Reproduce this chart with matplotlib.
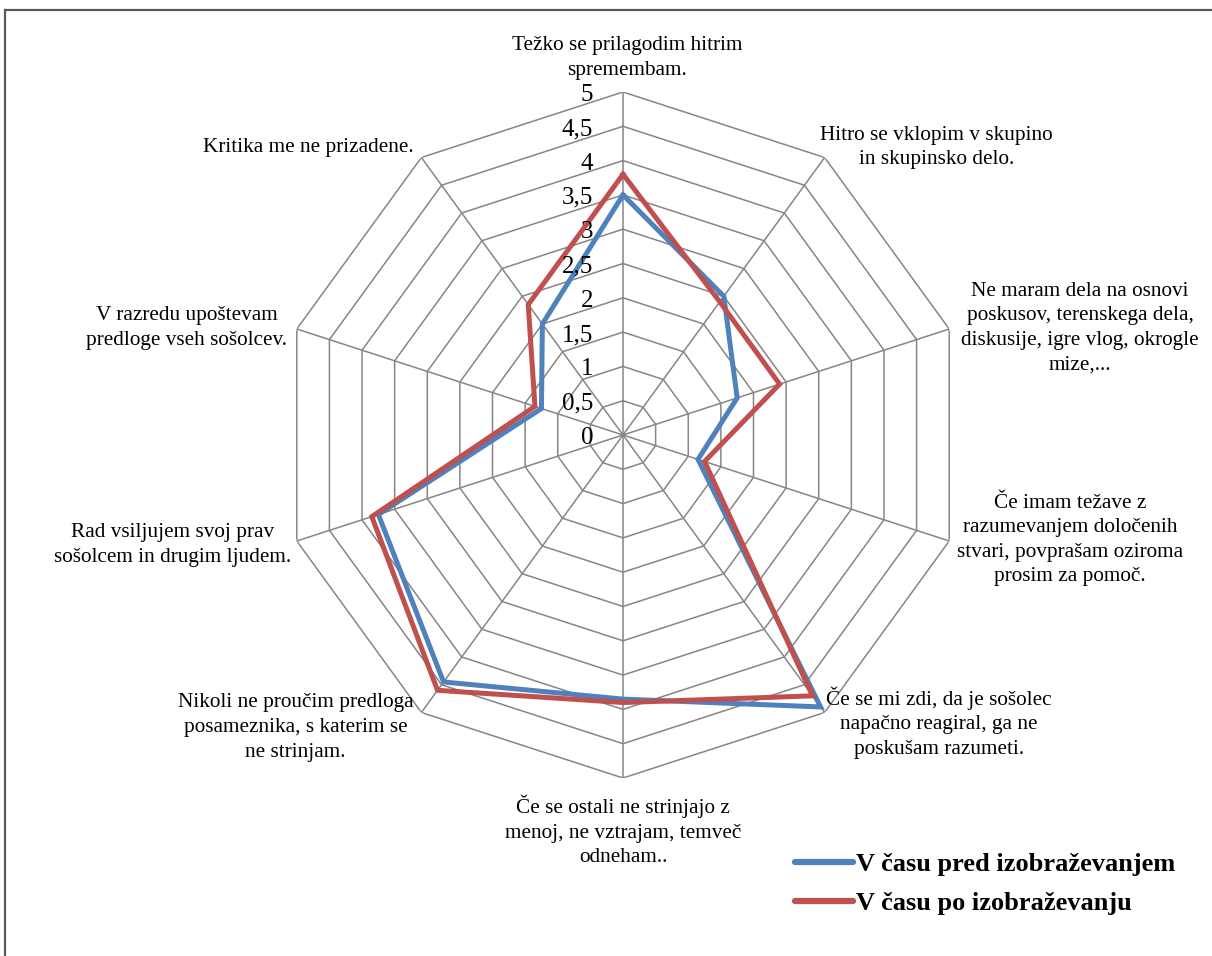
import numpy as np
import matplotlib
matplotlib.use("Agg")
import matplotlib.pyplot as plt
from matplotlib.lines import Line2D

plt.rcParams['font.family'] = ['Liberation Serif', 'DejaVu Serif']

# Survey statements (clockwise from the top)
categories = [
    "Težko se prilagodim hitrim\nspremembam.",
    "Hitro se vklopim v skupino\nin skupinsko delo.",
    "Ne maram dela na osnovi\nposkusov, terenskega dela,\ndiskusije, igre vlog, okrogle\nmize,...",
    "Če imam težave z\nrazumevanjem določenih\nstvari, povprašam oziroma\nprosim za pomoč.",
    "Če se mi zdi, da je sošolec\nnapačno reagiral, ga ne\nposkušam razumeti.",
    "Če se ostali ne strinjajo z\nmenoj, ne vztrajam, temveč\nodneham..",
    "Nikoli ne proučim predloga\nposameznika, s katerim se\nne strinjam.",
    "Rad vsiljujem svoj prav\nsošolcem in drugim ljudem.",
    "V razredu upoštevam\npredloge vseh sošolcev.",
    "Kritika me ne prizadene.",
]

# Mean scores before and after the training
before = [3.5, 2.5, 1.75, 1.15, 4.9, 3.85, 4.45, 3.75, 1.25, 2.0]
after = [3.8, 2.4, 2.4, 1.25, 4.7, 3.9, 4.6, 3.85, 1.35, 2.35]

series_names = ["V času pred izobraževanjem", "V času po izobraževanju"]
series_colors = ["#4F81BD", "#C0504D"]

r_ticks = [0, 0.5, 1, 1.5, 2, 2.5, 3, 3.5, 4, 4.5, 5]
r_tick_labels = ["0", "0,5", "1", "1,5", "2", "2,5", "3", "3,5", "4", "4,5", "5"]

# label offsets (pixels) from each outer vertex to the centre of its text block
label_offsets = [(4, 34), (112, 10), (131, 1), (121, 1), (114, -10),
                 (0, -53), (-126, -15), (-124, -4), (-110, 1), (-113, 10)]

W, H = 1212, 956
fig = plt.figure(figsize=(W / 100, H / 100), dpi=100)

cx, cy, R = 623, 435, 343
ax = fig.add_axes([(cx - R) / W, (H - cy - R) / H, 2 * R / W, 2 * R / H],
                  projection='polar')
ax.set_theta_offset(np.pi / 2)
ax.set_theta_direction(-1)
ax.set_ylim(0, 5)
ax.grid(False)
ax.set_xticks([])
ax.set_yticks([])
ax.spines['polar'].set_visible(False)
ax.patch.set_visible(False)

n = len(categories)
angles = np.linspace(0, 2 * np.pi, n, endpoint=False)
closed = np.append(angles, angles[0])

grid_color = "#868686"
for r in r_ticks[1:]:
    ax.plot(closed, [r] * (n + 1), color=grid_color, lw=1.1, zorder=1,
            solid_joinstyle='miter')
for a in angles:
    ax.plot([a, a], [0, 5], color=grid_color, lw=1.1, zorder=1)

for vals, col, name in zip([before, after], series_colors, series_names):
    ax.plot(closed, list(vals) + [vals[0]], color=col, lw=3.6, zorder=3,
            solid_joinstyle='miter', label=name)

for r, lab in zip(r_ticks, r_tick_labels):
    ax.annotate(lab, xy=(0, r), xytext=(-30, -3), textcoords='offset pixels',
                ha='right', va='center', fontsize=18, zorder=4)

for a, lab, (dx, dy) in zip(angles, categories, label_offsets):
    ax.annotate(lab, xy=(a, 5), xytext=(dx, dy), textcoords='offset pixels',
                ha='center', va='center', fontsize=15.3, linespacing=1.4,
                multialignment='center', annotation_clip=False)

handles = [Line2D([], [], color=c, lw=4.5, solid_capstyle='round') for c in series_colors]
leg = fig.legend(handles, series_names, loc='upper left',
                 bbox_to_anchor=(795 / W, 1 - 853 / H), frameon=False,
                 prop={'weight': 'bold', 'size': 19},
                 handlelength=2.2, handletextpad=0.1, labelspacing=0.58,
                 borderaxespad=0, borderpad=0)

# outer frame (left and top edges)
frame_kw = dict(color="#595959", lw=1.6, transform=fig.transFigure)
fig.add_artist(Line2D([5 / W, 5 / W], [0, 1 - 10 / H], **frame_kw))
fig.add_artist(Line2D([5 / W, 1], [1 - 10 / H, 1 - 10 / H], **frame_kw))

fig.savefig("out.png", dpi=100)
